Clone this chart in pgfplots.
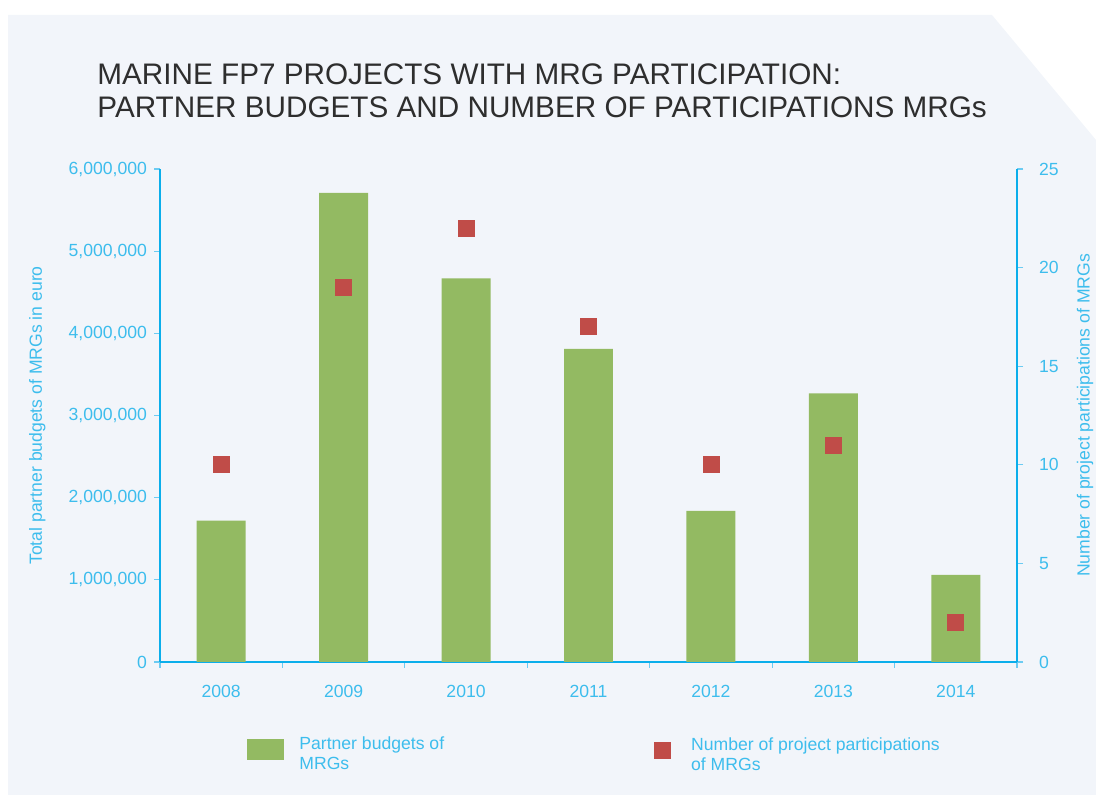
\documentclass[border=0pt]{standalone}
\usepackage{fontspec}
\setmainfont{Liberation Sans}
\usepackage{pgfplots}
\pgfplotsset{compat=1.18}
\definecolor{axiscyan}{HTML}{0BAEEB}
\definecolor{ticklab}{HTML}{3DBDED}
\definecolor{tickc}{HTML}{6CCBF2}
\definecolor{bargreen}{HTML}{93BA62}
\definecolor{sqred}{HTML}{C04C48}
\definecolor{panel}{HTML}{F2F5FA}
\definecolor{titlegray}{HTML}{2E2E2E}
\pgfplotsset{
  common/.style={
    at={(80pt,66.5pt)}, anchor=south west, scale only axis,
    width=428.5pt, height=246.5pt,
    xmin=-0.5, xmax=6.5,
    tick align=outside, major tick length=3pt,
    axis line style={axiscyan, line width=1.2pt},
    tick style={tickc, line width=0.6pt},
    tick label style={font=\fontsize{8.8}{10}\selectfont, text=ticklab},
    /pgf/number format/assume math mode=true,
    legend style={draw=none, fill=none, inner sep=0pt,
      nodes={inner sep=0pt, text=ticklab, font=\fontsize{8.8}{10}\selectfont}},
  }
}
\begin{document}
\begin{tikzpicture}
\useasboundingbox (0pt,0pt) rectangle (548pt,397.5pt);
\fill[panel] (4pt,390pt) -- (496pt,390pt) -- (548pt,327.5pt) -- (548pt,0pt) -- (4pt,0pt) -- cycle;
\node[anchor=base west, text=titlegray, font=\fontsize{14.85}{16}\selectfont, inner sep=0pt] at (48.5pt,355pt) {MARINE FP7 PROJECTS WITH MRG PARTICIPATION:};
\node[anchor=base west, text=titlegray, font=\fontsize{14.85}{16}\selectfont, inner sep=0pt] at (48.5pt,338.5pt) {PARTNER BUDGETS AND NUMBER OF PARTICIPATIONS MRGs};

\begin{axis}[common,
  ymin=0, ymax=6000000,
  axis x line*=bottom, axis y line*=left,
  xtick={-0.5,0.5,1.5,2.5,3.5,4.5,5.5,6.5},
  xticklabels={2008,2009,2010,2011,2012,2013,2014},
  x tick label as interval,
  xticklabel style={yshift=-5pt},
  ytick={0,1000000,2000000,3000000,4000000,5000000,6000000},
  scaled y ticks=false,
  yticklabel style={/pgf/number format/.cd, fixed, 1000 sep={,}},
  ylabel={Total partner budgets of MRGs in euro},
  every axis y label/.style={at={(axis description cs:-0.143,0.5)}, rotate=90, anchor=center,
    text=ticklab, font=\fontsize{8.8}{10}\selectfont},
  legend style={at={(0.1015,-0.1765)}, anchor=west,
    /tikz/every odd column/.append style={column sep=7.5pt}},
]
\addplot[ybar, bar width=0.4, fill=bargreen, draw=none,
  legend image code/.code={\fill[bargreen] (0pt,-5.25pt) rectangle (18.5pt,5.25pt);}]
  coordinates {(0,1720000) (1,5710000) (2,4670000) (3,3810000) (4,1840000) (5,3270000) (6,1060000)};
\addlegendentry{\begin{tabular}{@{}l@{}}Partner budgets of\\MRGs\end{tabular}}
\end{axis}

\begin{axis}[common,
  ymin=0, ymax=25,
  axis x line=none, axis y line*=right,
  ytick={0,5,10,15,20,25},
  yticklabel style={xshift=4.5pt},
  ylabel={Number of project participations of MRGs},
  every axis y label/.style={at={(axis description cs:1.0793,0.5)}, rotate=90, anchor=center,
    text=ticklab, font=\fontsize{8.8}{10}\selectfont},
  legend style={at={(0.5764,-0.1785)}, anchor=west,
    /tikz/every odd column/.append style={column sep=10pt}},
]
\addplot[only marks, mark=square*, mark size=4pt, color=sqred,
  legend image code/.code={\fill[sqred] (0pt,-4pt) rectangle (8pt,4pt);}]
  coordinates {(0,10) (1,19) (2,22) (3,17) (4,10) (5,11) (6,2)};
\addlegendentry{\begin{tabular}{@{}l@{}}Number of project participations\\of MRGs\end{tabular}}
\end{axis}
\end{tikzpicture}
\end{document}
